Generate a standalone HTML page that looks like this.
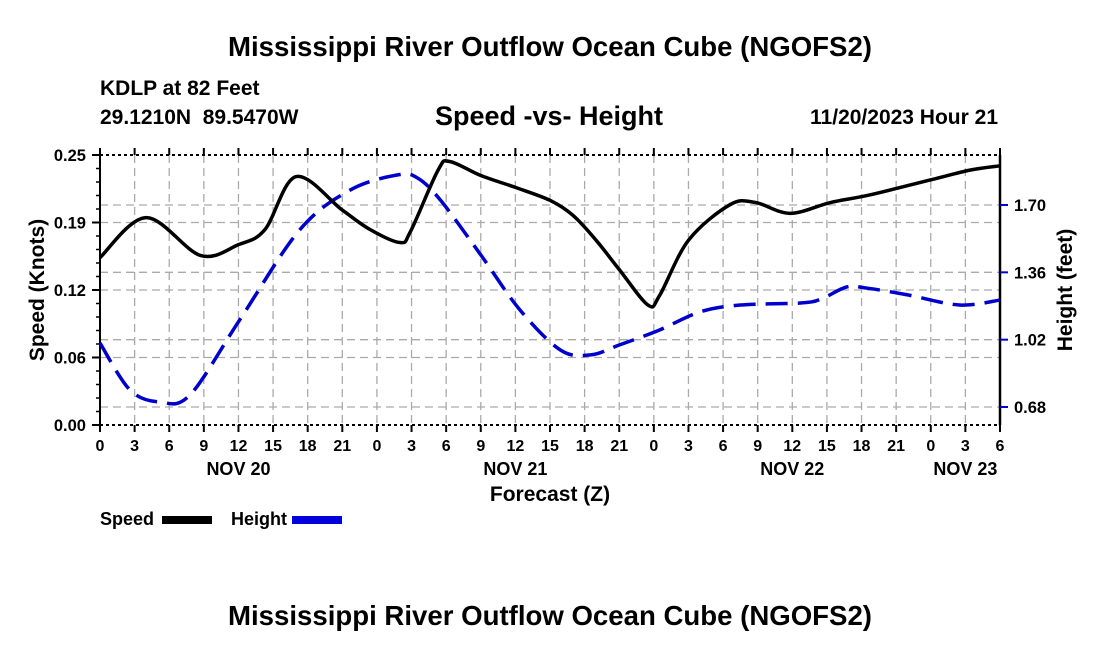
<!DOCTYPE html>
<html><head><meta charset="utf-8"><style>
body{margin:0;background:#fff}
svg text{font-family:"Liberation Sans",sans-serif;font-weight:bold;white-space:pre}
</style></head><body>
<svg width="1100" height="650">
<g id="g"></g>
</svg>
<script>
const speedHours=[0,4,8.7,12,14.3,17,21,23.4,26,26.9,29.3,30.3,33,36,39,41,43,45,47.5,48.5,51,54.6,56.8,59.8,63.3,66.7,72,75.4,78];
const speedVals=[.155,.192,.157,.167,.181,.230,.199,.181,.169,.179,.236,.244,.231,.220,.208,.194,.171,.144,.111,.120,.171,.204,.206,.196,.206,.213,.227,.236,.240];
const heightHours=[0,2.6,5.2,7.8,12.1,17.3,21.7,25.8,27.5,29.5,33,36.4,39.9,42.5,45,48.5,52,55.5,60.7,62.5,64.7,66.5,70,74.5,78];
const heightVals=[1.003,.766,.705,.741,1.119,1.574,1.776,1.852,1.837,1.725,1.448,1.170,.968,.943,.993,1.069,1.160,1.195,1.205,1.225,1.286,1.280,1.246,1.195,1.220];
const leftTicks=["0.00","0.06","0.12","0.19","0.25"];
const rightTicks=[0.68,1.02,1.36,1.70];
const hourLabels=["0","3","6","9","12","15","18","21","0","3","6","9","12","15","18","21","0","3","6","9","12","15","18","21","0","3","6"];
const dayLabels=[["NOV 20",12],["NOV 21",36],["NOV 22",60],["NOV 23",75]];
const X0=100,X1=1000,Y0=425,Y1=155;
const xs=h=>X0+h*(X1-X0)/78;
const ysL=v=>Y0-v*(Y0-Y1)/0.25;
const ysR=f=>407-(f-0.68)*(407-205)/1.02;
const NS="http://www.w3.org/2000/svg";
const g=document.getElementById('g');
function el(t,a,txt){const e=document.createElementNS(NS,t);for(const k in a)e.setAttribute(k,a[k]);if(txt!==undefined)e.textContent=txt;g.appendChild(e);return e;}
function tx(x,y,s,size,anchor,fill){return el('text',{x:x,y:y,'font-size':size,'text-anchor':anchor||'start',fill:fill||'#000'},s);}
let e;
e=tx(550,56,"Mississippi River Outflow Ocean Cube (NGOFS2)",27.6,'middle');


e=tx(100,95,"KDLP at 82 Feet",21);


e=tx(100,124,"29.1210N  89.5470W",21);


e=tx(549,125,"Speed -vs- Height",27,'middle');


e=tx(998,124,"11/20/2023 Hour 21",21,'end');


for(let i=1;i<26;i++){const x=xs(i*3);e=el('line',{x1:x,x2:x,y1:Y1,y2:Y0,stroke:'#aaa','stroke-width':1.3,'stroke-dasharray':'8,5'});

}
for(let i=1;i<4;i++){const y=ysL(i*0.0625);e=el('line',{x1:X0,x2:X1,y1:y,y2:y,stroke:'#aaa','stroke-width':1.3,'stroke-dasharray':'8,5'});

}
rightTicks.forEach(f=>{const y=ysR(f);e=el('line',{x1:X0,x2:X1,y1:y,y2:y,stroke:'#aaa','stroke-width':1.3,'stroke-dasharray':'8,5'});

});
e=el('line',{x1:X0,x2:X1,y1:Y1,y2:Y1,stroke:'#000','stroke-width':2,'stroke-dasharray':'3,3'});


e=el('line',{x1:X0,x2:X1,y1:Y0,y2:Y0,stroke:'#000','stroke-width':2,'stroke-dasharray':'3,3'});


e=el('line',{x1:X0,x2:X0,y1:Y1,y2:Y0,stroke:'#000','stroke-width':2});


e=el('line',{x1:X1,x2:X1,y1:Y1,y2:Y0,stroke:'#000','stroke-width':2.5});


leftTicks.forEach((s,i)=>{const y=ysL(i*0.0625);el('line',{x1:X0-8,x2:X0,y1:y,y2:y,stroke:'#000','stroke-width':2});
e=tx(X0-14,y+6,s,16.5,'end');

});
for(let i=0;i<=20;i++){const y=ysL(i*0.0125);el('line',{x1:X0-4,x2:X0,y1:y,y2:y,stroke:'#000','stroke-width':1.5});}
rightTicks.forEach(f=>{const y=ysR(f);el('line',{x1:X1,x2:X1+8,y1:y,y2:y,stroke:'#0000cc','stroke-width':2});
e=tx(X1+14,y+6,f.toFixed(2),16.5,'start');

});
hourLabels.forEach((s,i)=>{const x=xs(i*3);el('line',{x1:x,x2:x,y1:Y0,y2:Y0+7,stroke:'#000','stroke-width':2});el('line',{x1:x,x2:x,y1:Y1,y2:Y1-7,stroke:'#000','stroke-width':2});
e=tx(x,451,s,16,'middle');

});
dayLabels.forEach(d=>{e=tx(xs(d[1]),475,d[0],18,'middle');

});
e=tx(550,501,"Forecast (Z)",21,'middle');


e=tx(0,0,"Speed (Knots)",21,'middle');e.setAttribute('transform','translate(44,290) rotate(-90)');


e=tx(0,0,"Height (feet)",21,'middle');e.setAttribute('transform','translate(1072,290) rotate(-90)');


function path(hs,vs,fy){const p=hs.map((h,i)=>[xs(h),fy(vs[i])]);let d='M'+p[0][0]+','+p[0][1];
for(let i=0;i<p.length-1;i++){const a=p[Math.max(0,i-1)],b=p[i],c=p[i+1],n=p[Math.min(p.length-1,i+2)];
d+=' C'+(b[0]+(c[0]-a[0])/6)+','+(b[1]+(c[1]-a[1])/6)+' '+(c[0]-(n[0]-b[0])/6)+','+(c[1]-(n[1]-b[1])/6)+' '+c[0]+','+c[1];}return d;}
e=el('path',{d:path(heightHours,heightVals,ysR),fill:'none',stroke:'#0000cc','stroke-width':3.5,'stroke-dasharray':'22,10'});


e=el('path',{d:path(speedHours,speedVals,ysL),fill:'none',stroke:'#000','stroke-width':3.5});


e=tx(100,525,"Speed",18);


e=el('rect',{x:162,y:516,width:50,height:8,fill:'#000'});


e=tx(231,525,"Height",18);


e=el('rect',{x:292,y:516,width:50,height:8,fill:'#0000dd'});


e=tx(550,625,"Mississippi River Outflow Ocean Cube (NGOFS2)",27.6,'middle');


</script>
</body></html>
